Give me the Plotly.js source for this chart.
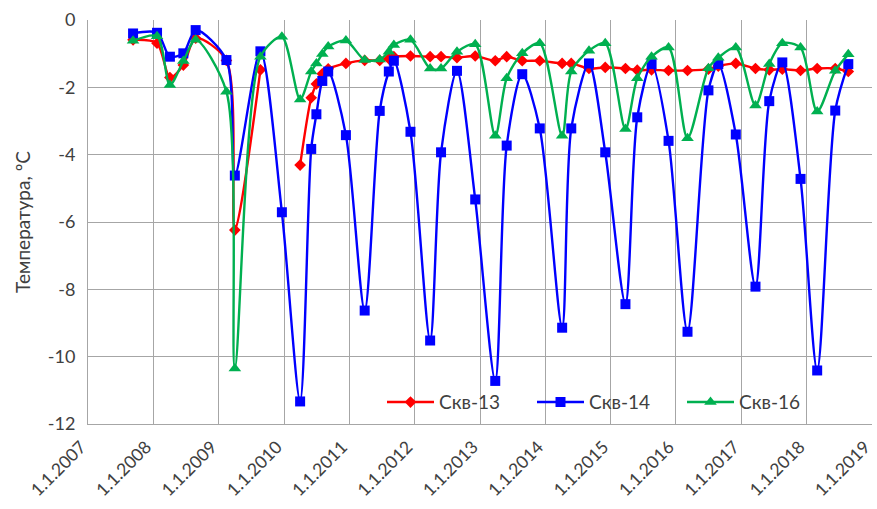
<!DOCTYPE html>
<html>
<head>
<meta charset="utf-8">
<script src="https://cdn.plot.ly/plotly-3.0.1.min.js"></script>
<style>html,body{margin:0;padding:0;background:#fff;}#chart{width:877px;height:509px;}</style>
</head>
<body>
<div id="chart"></div>
<script>
const dates = ["2007-09-10","2008-01-22","2008-04-03","2008-06-17","2008-08-25","2009-02-13","2009-04-01","2009-08-22","2009-12-20",
"2010-04-01","2010-06-02","2010-07-01","2010-08-03","2010-09-05","2010-12-13","2011-03-28","2011-06-20","2011-08-10","2011-09-07","2011-12-09",
"2012-03-28","2012-05-28","2012-08-25","2012-12-05","2013-03-27","2013-05-30","2013-08-25","2013-12-01","2014-04-05","2014-05-26",
"2014-09-02","2014-12-02","2015-03-25","2015-05-30","2015-08-18","2015-11-21","2016-03-06","2016-07-01","2016-08-25","2016-12-01",
"2017-03-21","2017-06-06","2017-08-18","2017-11-28","2018-03-01","2018-06-10","2018-08-22"];

const skv13 = [-0.59,-0.69,-1.71,-1.34,-0.54,-1.2,-6.24,-1.48,null,
-4.31,-2.31,-1.90,-1.60,-1.45,-1.29,-1.2,-1.2,-1.15,-1.09,-1.07,
-1.09,-1.09,-1.12,-1.07,-1.21,-1.09,-1.21,-1.21,-1.29,-1.29,
-1.44,-1.41,-1.44,-1.49,-1.48,-1.5,-1.5,-1.46,-1.37,-1.29,
-1.44,-1.48,-1.46,-1.50,-1.44,-1.44,-1.53];

const skv14 = [-0.40,-0.38,-1.09,-0.99,-0.30,-1.19,-4.62,-0.93,-5.71,
-11.33,-3.83,-2.80,-1.81,-1.53,-3.42,-8.63,-2.70,-1.53,-1.21,-3.32,
-9.52,-3.93,-1.51,-5.33,-10.72,-3.73,-1.61,-3.22,-9.14,-3.22,
-1.29,-3.93,-8.44,-2.89,-1.31,-3.59,-9.26,-2.09,-1.31,-3.40,
-7.92,-2.41,-1.26,-4.72,-10.41,-2.69,-1.31];

const skv16 = [-0.62,-0.48,-1.93,-1.22,-0.59,-2.13,-10.35,-1.09,-0.50,
-2.36,-1.53,-1.29,-1.01,-0.79,-0.61,-1.19,-1.17,-0.94,-0.74,-0.59,
-1.44,-1.44,-0.94,-0.72,-3.44,-1.73,-0.99,-0.69,-3.44,-1.53,
-0.91,-0.69,-3.24,-1.73,-1.09,-0.82,-3.51,-1.43,-1.12,-0.82,
-2.54,-1.31,-0.69,-0.82,-2.72,-1.51,-1.02];

const xTickVals = ["2007-01-01","2008-01-01","2009-01-01","2010-01-01","2011-01-01","2012-01-01","2013-01-01","2014-01-01","2015-01-01","2016-01-01","2017-01-01","2018-01-01","2019-01-01"];
const xTickText = ["1.1.2007","1.1.2008","1.1.2009","1.1.2010","1.1.2011","1.1.2012","1.1.2013","1.1.2014","1.1.2015","1.1.2016","1.1.2017","1.1.2018","1.1.2019"];
const yTickVals = [0,-2,-4,-6,-8,-10,-12];
const yTickText = ["0","-2","-4","-6","-8","-10","-12"];
const names = ["Скв-13","Скв-14","Скв-16"];

const font = "Lato, 'Open Sans', sans-serif";
const traces = [
  {x: dates, y: skv13, name: names[0], type: "scatter", mode: "lines+markers", connectgaps: false,
   line: {color: "#FF0000", width: 2.4, shape: "spline", smoothing: 0.8},
   marker: {symbol: "diamond", size: 9, color: "#FF0000"}},
  {x: dates, y: skv14, name: names[1], type: "scatter", mode: "lines+markers",
   line: {color: "#0000FF", width: 2.4, shape: "spline", smoothing: 0.8},
   marker: {symbol: "square", size: 10, color: "#0000FF"}},
  {x: dates, y: skv16, name: names[2], type: "scatter", mode: "lines+markers",
   line: {color: "#00B050", width: 2.4, shape: "spline", smoothing: 0.8},
   marker: {symbol: "triangle-up", size: 11, color: "#00B050"}}
];

const layout = {
  width: 877, height: 509,
  margin: {l: 88, r: 5, t: 20, b: 85},
  paper_bgcolor: "#fff", plot_bgcolor: "#fff",
  font: {family: font, size: 15, color: "#404040"},
  showlegend: true,
  legend: {orientation: "h", x: 0.375, y: 0.054, xanchor: "left", yanchor: "middle",
    bgcolor: "rgba(0,0,0,0)", font: {size: 19, color: "#404040"}, itemwidth: 47,
    entrywidth: 88, entrywidthmode: "pixels", traceorder: "normal"},
  xaxis: {type: "date", range: ["2007-01-01","2019-01-01 12:00"], tickmode: "array",
    tickvals: xTickVals, ticktext: xTickText, tickangle: -45, automargin: false,
    ticklabeloverflow: "allow", ticklabelshift: -7,
    showgrid: true, gridcolor: "#A6A6A6", gridwidth: 1, ticklabelstandoff: 5,
    showline: true, linecolor: "#A6A6A6", zeroline: false, ticks: "",
    tickfont: {size: 17.5, color: "#404040"}},
  yaxis: {range: [-12, 0], tickmode: "array", tickvals: yTickVals, ticktext: yTickText,
    showgrid: true, gridcolor: "#A6A6A6", gridwidth: 1, automargin: false, ticklabelstandoff: 8,
    showline: true, linecolor: "#A6A6A6", zeroline: false, ticks: "",
    tickfont: {size: 18, color: "#404040"},
    title: {text: "Температура, ºС", font: {size: 19, color: "#404040"}, standoff: 12}}
};

Plotly.newPlot("chart", traces, layout, {displayModeBar: false, staticPlot: true});
</script>
</body>
</html>
